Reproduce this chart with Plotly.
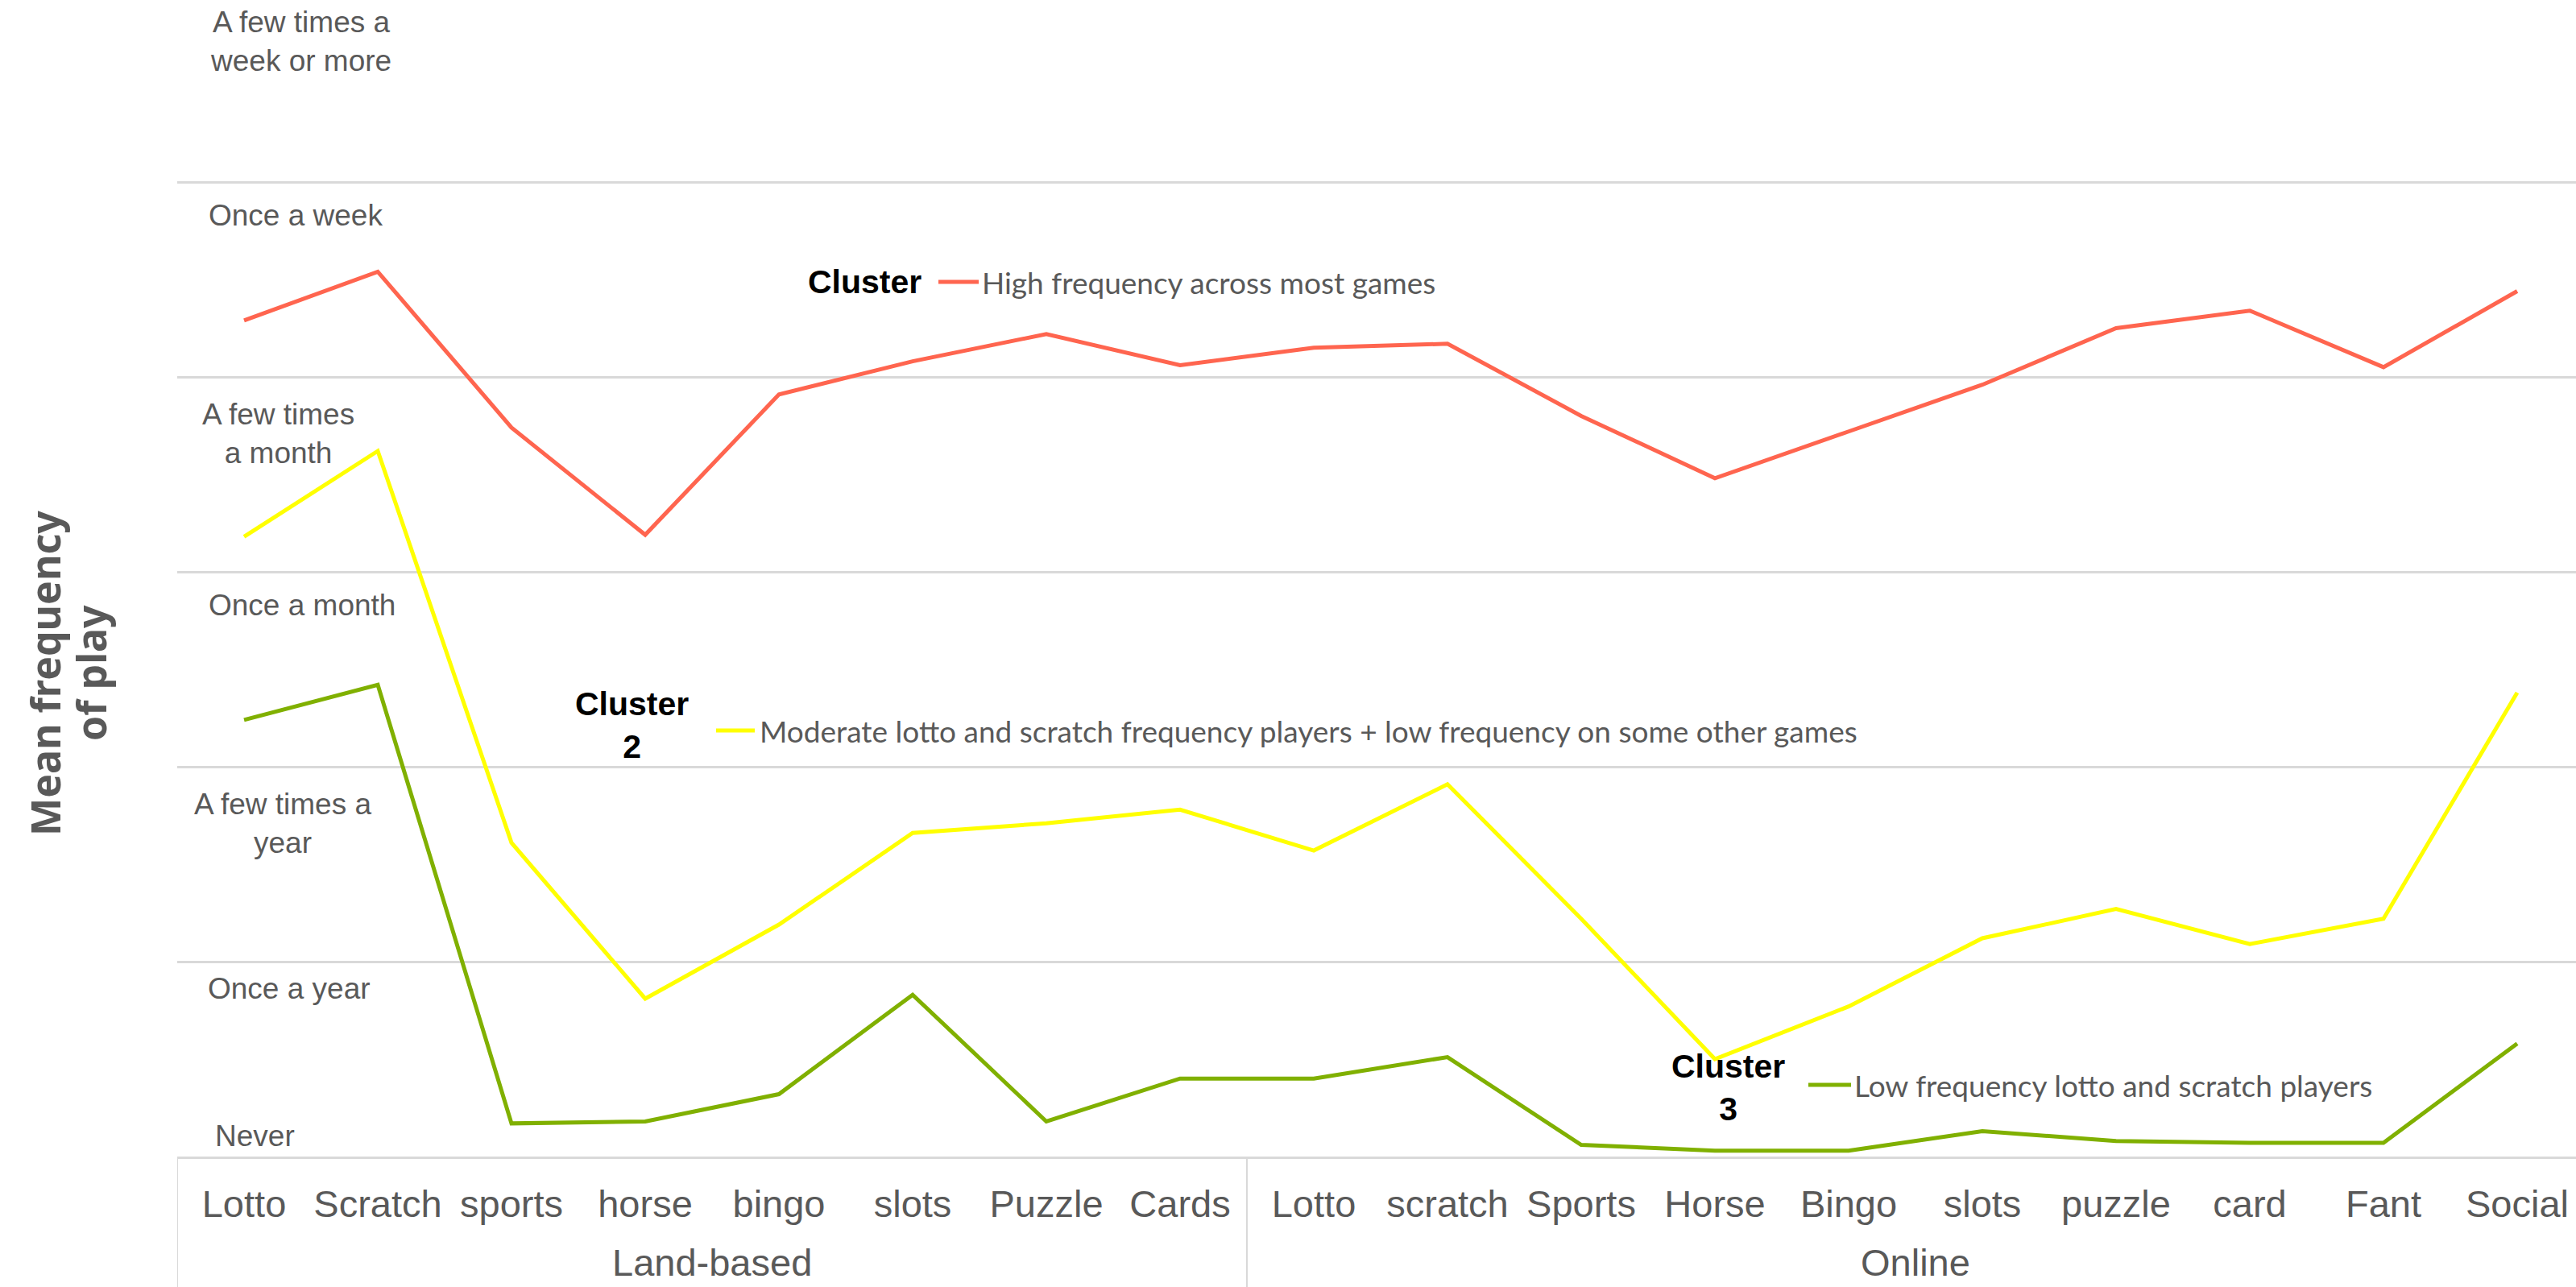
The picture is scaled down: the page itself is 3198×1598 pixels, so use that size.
import plotly.graph_objects as go

# ---------------- data ----------------
land_games = ["Lotto", "Scratch", "sports", "horse", "bingo", "slots", "Puzzle", "Cards"]
online_games = ["Lotto", "scratch", "Sports", "Horse", "Bingo", "slots", "puzzle", "card", "Fant", "Social"]
groups = ["Land-based", "Online"]

freq_labels = ["Never", "Once a year", "A few times a<br>year", "Once a month",
               "A few times<br>a month", "Once a week", "A few times a<br>week or more"]

cluster1 = [4.29, 4.54, 3.74, 3.19, 3.91, 4.08, 4.22, 4.06,
            4.15, 4.17, 3.80, 3.48, 3.72, 3.96, 4.25, 4.34, 4.05, 4.44]
cluster2 = [3.18, 3.62, 1.61, 0.81, 1.19, 1.66, 1.71, 1.78,
            1.57, 1.91, 1.22, 0.50, 0.77, 1.12, 1.27, 1.09, 1.22, 2.38]
cluster3 = [2.24, 2.42, 0.17, 0.18, 0.32, 0.83, 0.18, 0.40,
            0.40, 0.51, 0.06, 0.03, 0.03, 0.13, 0.08, 0.07, 0.07, 0.58]

cluster_titles = ["Cluster", "Cluster<br>2", "Cluster<br>3"]
cluster_names = ["High frequency across most games",
                 "Moderate lotto and scratch frequency players + low frequency on some other games",
                 "Low frequency lotto and scratch players"]

axis_title_lines = ["Mean frequency", "of play"]

# ---------------- styling ----------------
colors = ["#FF654F", "#FFFF00", "#80B000"]
GRAY = "#595959"
GRID = "#D9D9D9"
W, H = 3198, 1598
L, B = 220, 162
PH = H - B
CAT_W = 166.0
x_max = -0.5 + (W - L) / CAT_W
y_max = PH / 242.0

categories = land_games + online_games
xs = list(range(len(categories)))

fig = go.Figure()
for vals, col, name in zip([cluster1, cluster2, cluster3], colors, cluster_names):
    fig.add_trace(go.Scatter(x=xs, y=vals, mode="lines", name=name,
                             line=dict(color=col, width=5), showlegend=False))

annotations = []
# y band labels
lab_x = [316, 359, 351, 375, 345, 367, 373]
lab_y = [0.107, 0.86, 1.71, 2.83, 3.71, 4.83, 5.72]
for t, px, yv in zip(freq_labels, lab_x, lab_y):
    annotations.append(dict(text=t, x=(px - L) / (W - L), xref="paper", y=yv, yref="y",
                            xanchor="center", yanchor="middle", showarrow=False,
                            font=dict(family="Liberation Sans, Arial", size=37, color=GRAY)))

# axis title (two rotated lines)
for line, px in zip(axis_title_lines, [56, 113]):
    annotations.append(dict(text=line, textangle=-90,
                            x=(px - L) / (W - L), xref="paper", y=(PH - 836) / PH, yref="paper",
                            xanchor="center", yanchor="middle", showarrow=False,
                            font=dict(family="Noto Sans", size=50, color=GRAY, weight="bold")))

# group labels
n_land = len(land_games)
group_centers = [(n_land - 1) / 2, n_land + (len(online_games) - 1) / 2]
for g, c in zip(groups, group_centers):
    annotations.append(dict(text=g, x=c, xref="x", y=-(1567 - PH) / PH, yref="paper",
                            xanchor="center", yanchor="middle", showarrow=False,
                            font=dict(family="Liberation Sans, Arial", size=47, color=GRAY)))

# inline legend labels
def px2x(px):
    return (px - L) / CAT_W - 0.5

def py2y(py):
    return (PH - py) / 242.0

leg = [  # (title x, title anchor, title y, swatch x0, x1, y, text x)
    (1146, "right", 350, 1165, 1215, 350, 1217),
    (784, "center", 900, 889, 937, 907, 941),
    (2145, "center", 1350, 2245, 2298, 1347, 2300),
]
shapes = []
for (tx, tanc, ty, sx0, sx1, sy, txt_x), title, name, col in zip(leg, cluster_titles, cluster_names, colors):
    annotations.append(dict(text="<b>" + title + "</b>", x=px2x(tx), xref="x", y=py2y(ty), yref="y",
                            xanchor=tanc, yanchor="middle", showarrow=False, align="center",
                            font=dict(family="Liberation Sans, Arial", size=41, color="#000000")))
    shapes.append(dict(type="line", xref="x", yref="y", x0=px2x(sx0), x1=px2x(sx1),
                       y0=py2y(sy), y1=py2y(sy), line=dict(color=col, width=5)))
    annotations.append(dict(text=name, x=px2x(txt_x), xref="x", y=py2y(sy), yref="y",
                            xanchor="left", yanchor="middle", showarrow=False,
                            font=dict(family="Lato", size=37, color=GRAY)))

# category box dividers
for xd in [-0.5, n_land - 0.5, len(categories) - 0.5]:
    shapes.append(dict(type="line", xref="x", yref="paper", x0=xd, x1=xd, y0=0, y1=-B / PH,
                       line=dict(color=GRID, width=2)))

fig.update_layout(
    width=W, height=H,
    margin=dict(l=L, r=0, t=0, b=B, pad=0),
    plot_bgcolor="white", paper_bgcolor="white",
    annotations=annotations, shapes=shapes,
    xaxis=dict(range=[-0.5, x_max], tickmode="array", tickvals=xs, ticktext=categories,
               showgrid=False, zeroline=False, showline=True, linecolor=GRID, linewidth=3,
               ticks="", ticklabelstandoff=16,
               tickfont=dict(family="Liberation Sans, Arial", size=47, color=GRAY)),
    yaxis=dict(range=[0, y_max], tickmode="array", tickvals=[1, 2, 3, 4, 5],
               showticklabels=False, showgrid=True, gridcolor=GRID, gridwidth=3,
               zeroline=False, showline=False),
)

fig.write_html("out.html")
